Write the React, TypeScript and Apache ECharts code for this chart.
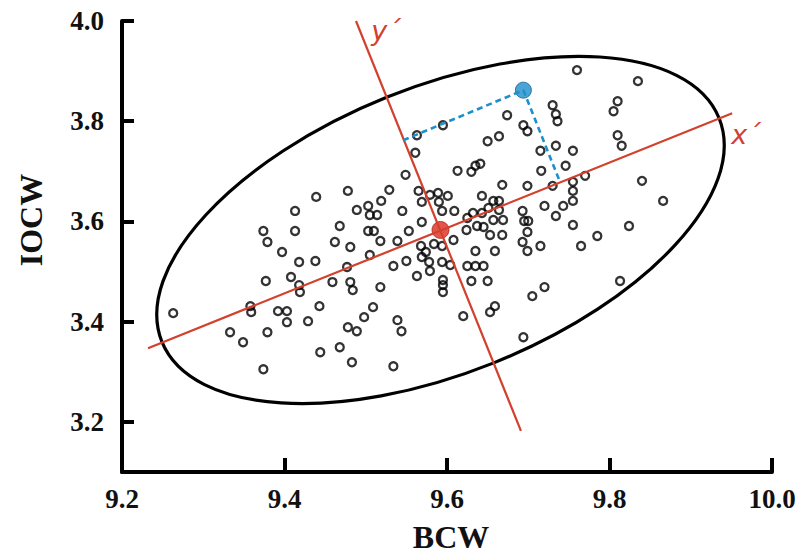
import React, { useEffect, useRef } from "react";
import * as echarts from "echarts";

// Axis ticks
const yTicks = [3.2, 3.4, 3.6, 3.8, 4.0];

// Observations (BCW, IOCW)
const bcw = [
  9.263, 9.333, 9.349, 9.358, 9.359, 9.374, 9.379, 9.374, 9.379, 9.377,
  9.392, 9.403, 9.403, 9.397, 9.408, 9.413, 9.413, 9.418, 9.418, 9.419,
  9.429, 9.438, 9.439, 9.443, 9.444, 9.459, 9.462, 9.468, 9.468, 9.478,
  9.481, 9.477, 9.481, 9.478, 9.483,
  9.489, 9.503, 9.505, 9.514, 9.519, 9.529, 9.503, 9.510, 9.518, 9.539,
  9.545, 9.549, 9.553, 9.561, 9.563, 9.595, 9.565, 9.579, 9.589, 9.601,
  9.569, 9.590, 9.594, 9.609, 9.569, 9.608, 9.613, 9.630, 9.635, 9.641,
  9.650, 9.664, 9.674, 9.668, 9.643, 9.657, 9.664, 9.651, 9.664, 9.632,
  9.625, 9.643, 9.657, 9.669, 9.637, 9.624, 9.645, 9.653, 9.668, 9.635,
  9.659, 9.568, 9.574, 9.584, 9.594, 9.505, 9.534, 9.550, 9.563, 9.569,
  9.578, 9.579, 9.594, 9.604, 9.595, 9.595, 9.595, 9.484, 9.518, 9.509,
  9.498, 9.489, 9.539, 9.544, 9.534, 9.620, 9.625, 9.635, 9.645, 9.630,
  9.650, 9.653, 9.659,
  9.760, 9.835, 9.730, 9.734, 9.736, 9.694, 9.699, 9.810, 9.805, 9.810,
  9.815, 9.734, 9.715, 9.755, 9.716, 9.746, 9.770, 9.755, 9.730, 9.699,
  9.755, 9.755, 9.743, 9.720, 9.734, 9.693, 9.695, 9.700, 9.699, 9.693,
  9.699, 9.715, 9.755, 9.765, 9.785, 9.824, 9.840, 9.866, 9.813, 9.720,
  9.705, 9.694,
];
const iocw = [
  3.417, 3.379, 3.359, 3.431, 3.419, 3.305, 3.379, 3.581, 3.559, 3.481,
  3.421, 3.421, 3.399, 3.539, 3.489, 3.621, 3.581, 3.519, 3.473, 3.459,
  3.401, 3.521, 3.649, 3.431, 3.339, 3.479, 3.559, 3.591, 3.349, 3.661,
  3.549, 3.509, 3.479, 3.389, 3.319,
  3.623, 3.631, 3.613, 3.613, 3.641, 3.663, 3.581, 3.581, 3.561, 3.561,
  3.621, 3.693, 3.581, 3.737, 3.772, 3.792, 3.661, 3.653, 3.657, 3.651,
  3.639, 3.639, 3.621, 3.621, 3.599, 3.563, 3.701, 3.699, 3.711, 3.715,
  3.760, 3.770, 3.812, 3.673, 3.651, 3.641, 3.641, 3.627, 3.623, 3.617,
  3.607, 3.617, 3.603, 3.603, 3.591, 3.583, 3.589, 3.573, 3.573, 3.541,
  3.541, 3.551, 3.539, 3.555, 3.551, 3.533, 3.511, 3.521, 3.491, 3.529,
  3.519, 3.501, 3.519, 3.513, 3.483, 3.473, 3.459, 3.463, 3.469, 3.429,
  3.409, 3.381, 3.403, 3.381, 3.311, 3.411, 3.511, 3.511, 3.511, 3.481,
  3.481, 3.419, 3.431,
  3.902, 3.880, 3.832, 3.814, 3.800, 3.792, 3.780, 3.840, 3.820, 3.772,
  3.751, 3.751, 3.741, 3.741, 3.701, 3.711, 3.691, 3.679, 3.671, 3.671,
  3.661, 3.641, 3.631, 3.631, 3.611, 3.621, 3.601, 3.601, 3.579, 3.559,
  3.541, 3.551, 3.593, 3.551, 3.571, 3.591, 3.681, 3.641, 3.481, 3.469,
  3.451, 3.369,
];

// Centroid, highlighted observation and its projections
const centroid = [9.592, 3.583];
const bluePoint = [9.694, 3.862];
const blueProjYPrime = [9.546, 3.762];
const blueProjXPrime = [9.739, 3.679];

// Principal axes (x′, y′)
const xPrimeAxis = [
  [9.232, 3.347],
  [9.951, 3.816],
];
const yPrimeAxis = [
  [9.488, 4.0],
  [9.691, 3.182],
];

// Ellipse: centre, end of semi-major axis, end of semi-minor axis
const ellipseCenter = [9.592, 3.583];
const ellipseMajorEnd = [9.935, 3.806];
const ellipseMinorEnd = [9.526, 3.848];

const RED = "#d2402e";
const BLUE = "#1d8fcc";
const SERIF = '"Liberation Serif", "Times New Roman", serif';

export default function App() {
  const ref = useRef<HTMLDivElement>(null);

  useEffect(() => {
    if (!ref.current) return;
    const chart = echarts.init(ref.current, undefined, { renderer: "svg" });
    const points = bcw.map((x, i) => [x, iocw[i]]);

    const centerText = {
      textAlign: "center",
      textVerticalAlign: "middle",
      align: "center",
      verticalAlign: "middle",
    };

    const option: any = {
      animation: false,
      backgroundColor: "#ffffff",
      grid: { left: 122, right: 37, top: 21, bottom: 86 },
      xAxis: {
        type: "value",
        min: 9.2,
        max: 10.0,
        interval: 0.2,
        splitLine: { show: false },
        axisLine: { show: true, onZero: false, lineStyle: { color: "#000", width: 4 } },
        axisTick: {
          show: true,
          inside: true,
          length: 14,
          lineStyle: { color: "#000", width: 4 },
        },
        axisLabel: {
          margin: 13,
          color: "#111",
          fontFamily: SERIF,
          fontWeight: "bold",
          fontSize: 27,
          formatter: (v: number) => v.toFixed(1),
        },
      },
      yAxis: {
        type: "value",
        min: 3.1,
        max: 4.0,
        splitLine: { show: false },
        axisLine: { show: true, onZero: false, lineStyle: { color: "#000", width: 4 } },
        axisTick: {
          show: true,
          inside: true,
          length: 12,
          customValues: yTicks,
          lineStyle: { color: "#000", width: 4 },
        },
        axisLabel: {
          customValues: yTicks,
          margin: 18,
          color: "#111",
          fontFamily: SERIF,
          fontWeight: "bold",
          fontSize: 27,
          formatter: (v: number) => v.toFixed(1),
        },
      },
      graphic: [
        {
          type: "text",
          x: 31,
          y: 220,
          rotation: Math.PI / 2,
          style: { text: "IOCW", font: `bold 32px ${SERIF}`, fill: "#111", ...centerText },
        },
        {
          type: "text",
          x: 451,
          y: 537,
          style: { text: "BCW", font: `bold 32px ${SERIF}`, fill: "#111", ...centerText },
        },
        {
          type: "text",
          x: 386,
          y: 30,
          style: {
            text: "y´",
            font: 'italic 27px "DejaVu Sans", sans-serif',
            fill: RED,
            ...centerText,
          },
        },
        {
          type: "text",
          x: 746,
          y: 134,
          style: {
            text: "x´",
            font: 'italic 27px "DejaVu Sans", sans-serif',
            fill: RED,
            ...centerText,
          },
        },
      ],
      series: [
        {
          type: "custom",
          name: "ellipse",
          data: [ellipseCenter],
          clip: false,
          silent: true,
          renderItem: (_params: any, api: any) => {
            const c = api.coord(ellipseCenter);
            const a = api.coord(ellipseMajorEnd);
            const b = api.coord(ellipseMinorEnd);
            const rx = Math.hypot(a[0] - c[0], a[1] - c[1]);
            const ry = Math.hypot(b[0] - c[0], b[1] - c[1]);
            const rot = Math.atan2(-(a[1] - c[1]), a[0] - c[0]);
            return {
              type: "ellipse",
              x: c[0],
              y: c[1],
              rotation: rot,
              shape: { cx: 0, cy: 0, rx, ry },
              style: { fill: "none", stroke: "#000", lineWidth: 3.2 },
            };
          },
        },
        {
          type: "line",
          name: "x′",
          data: xPrimeAxis,
          symbol: "none",
          clip: false,
          lineStyle: { color: RED, width: 2.2 },
        },
        {
          type: "line",
          name: "y′",
          data: yPrimeAxis,
          symbol: "none",
          clip: false,
          lineStyle: { color: RED, width: 2.2 },
        },
        {
          type: "scatter",
          name: "observations",
          data: points,
          symbol: "circle",
          symbolSize: 8,
          itemStyle: { color: "transparent", borderColor: "#000", borderWidth: 2.3 },
        },
        {
          type: "line",
          name: "projection",
          data: [blueProjYPrime, bluePoint, blueProjXPrime],
          symbol: "none",
          lineStyle: { color: BLUE, width: 2.6, type: [6, 4] },
        },
        {
          type: "scatter",
          name: "highlight",
          data: [bluePoint],
          symbolSize: 16,
          itemStyle: { color: BLUE, borderColor: "#0f5f8a", borderWidth: 1 },
        },
        {
          type: "scatter",
          name: "centroid",
          data: [centroid],
          symbolSize: 17,
          itemStyle: { color: "#dc2a1e", borderColor: "#a8261a", borderWidth: 1 },
        },
      ],
    };

    chart.setOption(option);
    return () => chart.dispose();
  }, []);

  return (
    <div
      ref={ref}
      style={{ position: "absolute", left: 0, top: 0, width: 809, height: 558, background: "#fff" }}
    />
  );
}
